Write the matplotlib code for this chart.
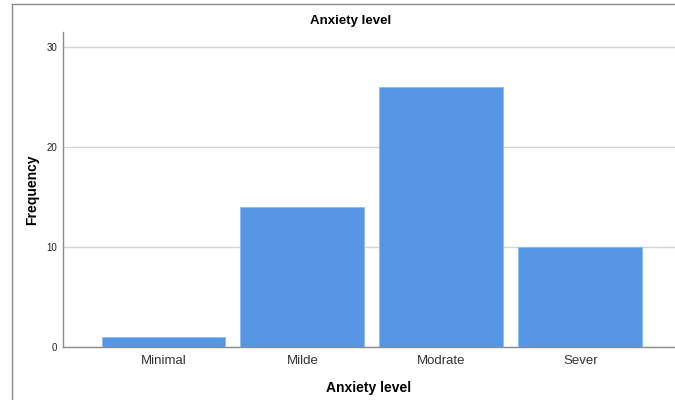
import numpy as np
import matplotlib
matplotlib.use("Agg")
import matplotlib.pyplot as plt
from matplotlib.lines import Line2D

# Anxiety level frequencies
categories = ["Minimal", "Milde", "Modrate", "Sever"]
counts = [1, 14, 26, 10]
yticks = [0, 10, 20, 30]

plt.rcParams['font.family'] = ['Liberation Sans', 'DejaVu Sans']

fig = plt.figure(figsize=(6.75, 4), dpi=100)
ax = fig.add_axes([63 / 675, 53 / 400, 1 - 63 / 675, 315 / 400])

x = np.arange(len(categories))
ax.bar(x, counts, width=0.892, color='#5696e4', edgecolor='#8dbaf0',
       linewidth=0.6, zorder=3)

ax.set_xlim(-0.723, 3.68)
ax.set_ylim(0, 31.5)
ax.set_yticks(yticks)
ax.set_xticks(x)
ax.set_xticklabels(categories, fontsize=9.5, color='#333333')
ax.tick_params(axis='y', length=0, labelsize=7, pad=4, labelcolor='#222222')
ax.tick_params(axis='x', length=0, pad=6)
ax.grid(axis='y', color='#d4d4d4', linewidth=1.0, zorder=0)

for s in ['top', 'right']:
    ax.spines[s].set_visible(False)
for s in ['left', 'bottom']:
    ax.spines[s].set_color('#8c8c8c')
    ax.spines[s].set_linewidth(1.0)

ax.set_ylabel("Frequency", fontsize=10, fontweight='bold')
ax.yaxis.set_label_coords(-0.039, 0.5)
ax.set_xlabel("Anxiety level", fontsize=10, fontweight='bold', labelpad=10)
fig.text(351 / 675, 1 - 21 / 400, "Anxiety level", ha='center', va='center',
         fontsize=9.5, fontweight='bold')

# outer frame (top and left edges visible)
fig.add_artist(Line2D([12 / 675, 1], [1 - 4 / 400, 1 - 4 / 400],
                      color='#8c8c8c', linewidth=1.0))
fig.add_artist(Line2D([12 / 675, 12 / 675], [0, 1 - 4 / 400],
                      color='#8c8c8c', linewidth=1.0))

fig.savefig("out.png", dpi=100)
